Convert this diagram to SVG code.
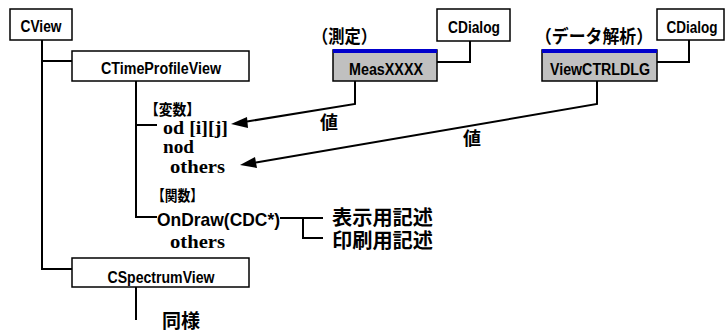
<svg xmlns="http://www.w3.org/2000/svg" width="726" height="332" viewBox="0 0 726 332">
<defs>
<style>
.box{fill:#fff;stroke:#000;stroke-width:1.5}
.gbox{fill:#c0c0c0;stroke:#000;stroke-width:1.5}
.bar{fill:#0000cc}
.lbl{font-family:"Liberation Sans",Arial,sans-serif;font-weight:bold;font-size:16px;fill:#000;text-anchor:middle}
.jp{font-family:"Liberation Sans","Noto Sans CJK JP",sans-serif;font-weight:bold;fill:#000}
.tm{font-family:"Liberation Serif","Times New Roman",serif;font-weight:bold;font-size:19px;fill:#000}
.sn{font-family:"Liberation Sans",Arial,sans-serif;font-weight:bold;font-size:19px;fill:#000}
.ln{fill:none;stroke:#000;stroke-width:2}
</style>
</defs>
<g id="connectors">
<polyline class="ln" points="42,40 42,269 72,269"/>
<polyline class="ln" points="42,61 72,61"/>
<polyline class="ln" points="136,81 136,217 157,217"/>
<polyline class="ln" points="136,125 157,125"/>
<polyline class="ln" points="136,287 136,320"/>
<polyline class="ln" points="437,62 470,62 470,41"/>
<polyline class="ln" points="657,62 689,62 689,40"/>
<polyline class="ln" points="280,218 323,218"/>
<polyline class="ln" points="303,218 303,238 323,238"/>
<polyline class="ln" points="355,81 355,104 247,121.5"/>
<path d="M231,124 L247,117 L248,128 Z" fill="#000"/>
<polyline class="ln" points="597,81 597,104 256,162.5"/>
<path d="M240,165 L255,157 L257,168 Z" fill="#000"/>
</g>
<g id="cview">
<rect class="box" x="10" y="9" width="62" height="31"/>
<text class="lbl" x="41" y="32" font-size="17" textLength="41" lengthAdjust="spacingAndGlyphs">CView</text>
</g>
<g id="ctimeprofileview">
<rect class="box" x="72" y="51" width="177" height="30"/>
<text class="lbl" x="161" y="74" font-size="17" textLength="120" lengthAdjust="spacingAndGlyphs">CTimeProfileView</text>
</g>
<g id="cspectrumview">
<rect class="box" x="72" y="258" width="177" height="29"/>
<text class="lbl" x="161" y="283" textLength="107" lengthAdjust="spacingAndGlyphs">CSpectrumView</text>
</g>
<g id="measxxxx">
<rect class="gbox" x="333" y="50" width="104" height="31"/>
<rect class="bar" x="333" y="49" width="104" height="4"/>
<text class="lbl" x="386" y="75" textLength="74" lengthAdjust="spacingAndGlyphs">MeasXXXX</text>
<text class="jp" x="312" y="43" font-size="18" textLength="65" lengthAdjust="spacingAndGlyphs">（測定）</text>
</g>
<g id="viewctrldlg">
<rect class="gbox" x="542" y="50" width="115" height="31"/>
<rect class="bar" x="542" y="49" width="115" height="4"/>
<text class="lbl" x="600" y="75" textLength="100" lengthAdjust="spacingAndGlyphs">ViewCTRLDLG</text>
<text class="jp" x="535" y="43" font-size="18" textLength="118" lengthAdjust="spacingAndGlyphs">（データ解析）</text>
</g>
<g id="cdialog1">
<rect class="box" x="437" y="9" width="73" height="32"/>
<text class="lbl" x="474" y="33" textLength="52" lengthAdjust="spacingAndGlyphs">CDialog</text>
</g>
<g id="cdialog2">
<rect class="box" x="657" y="9" width="67" height="31"/>
<text class="lbl" x="692" y="33" textLength="51" lengthAdjust="spacingAndGlyphs">CDialog</text>
</g>
<g id="members">
<text class="jp" x="145" y="115" font-size="15" textLength="55" lengthAdjust="spacingAndGlyphs">【変数】</text>
<text class="tm" x="163" y="134" textLength="65" lengthAdjust="spacingAndGlyphs">od [i][j]</text>
<text class="tm" x="163" y="153" textLength="31" lengthAdjust="spacingAndGlyphs">nod</text>
<text class="tm" x="170" y="173" textLength="55" lengthAdjust="spacingAndGlyphs">others</text>
<text class="jp" x="152" y="201" font-size="15" textLength="51" lengthAdjust="spacingAndGlyphs">【関数】</text>
<text class="sn" x="157" y="226" textLength="123" lengthAdjust="spacingAndGlyphs">OnDraw(CDC*)</text>
<text class="tm" x="170" y="248" textLength="55" lengthAdjust="spacingAndGlyphs">others</text>
<text class="jp" x="332" y="225" font-size="20" textLength="101" lengthAdjust="spacingAndGlyphs">表示用記述</text>
<text class="jp" x="332" y="248" font-size="20" textLength="101" lengthAdjust="spacingAndGlyphs">印刷用記述</text>
<text class="jp" x="162" y="328" font-size="19">同様</text>
<text class="jp" x="320" y="129" font-size="18">値</text>
<text class="jp" x="463" y="145" font-size="18">値</text>
</g>
</svg>
